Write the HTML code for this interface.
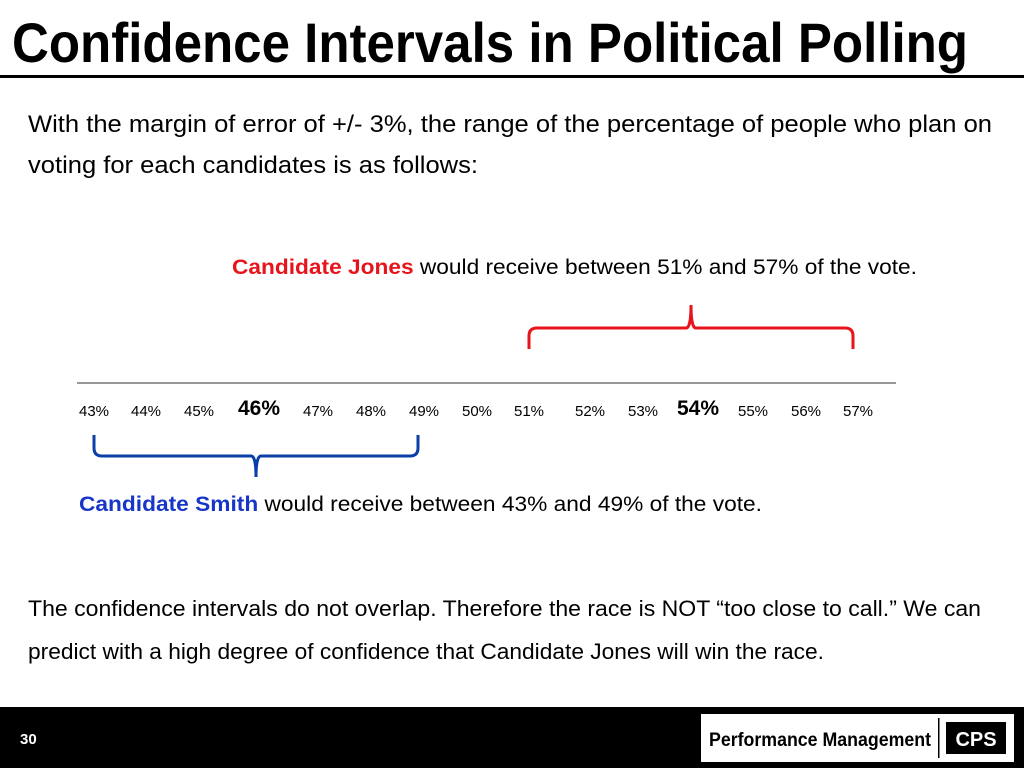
<!DOCTYPE html>
<html><head><meta charset="utf-8"><style>
html,body{margin:0;padding:0;background:#fff;}
svg{display:block;font-family:"Liberation Sans",Arial,sans-serif;}
</style></head><body>
<svg width="1024" height="768" viewBox="0 0 1024 768">
<text x="12" y="62" font-size="56" font-weight="bold" textLength="956" lengthAdjust="spacingAndGlyphs">Confidence Intervals in Political Polling</text>
<rect x="0" y="75" width="1024" height="3" fill="#000"/>
<text x="28" y="132" font-size="24" textLength="964" lengthAdjust="spacingAndGlyphs">With the margin of error of +/- 3%, the range of the percentage of people who plan on</text>
<text x="28" y="173" font-size="24" textLength="450" lengthAdjust="spacingAndGlyphs">voting for each candidates is as follows:</text>
<text x="232" y="274" font-size="21" textLength="685" lengthAdjust="spacingAndGlyphs"><tspan fill="#e8141b" font-weight="bold">Candidate Jones</tspan> would receive between 51% and 57% of the vote.</text>
<g id="chart"></g>
<text x="79" y="511" font-size="21" textLength="683" lengthAdjust="spacingAndGlyphs"><tspan fill="#1736c8" font-weight="bold">Candidate Smith</tspan> would receive between 43% and 49% of the vote.</text>
<text x="28" y="616" font-size="22" textLength="953" lengthAdjust="spacingAndGlyphs">The confidence intervals do not overlap.  Therefore the race is NOT “too close to call.”  We can</text>
<text x="28" y="659" font-size="22" textLength="796" lengthAdjust="spacingAndGlyphs">predict with a high degree of confidence that Candidate Jones will win the race.</text>
<rect x="0" y="707" width="1024" height="61" fill="#000"/>
<text x="20" y="744" font-size="15" font-weight="bold" fill="#fff">30</text>
<rect x="701" y="714" width="313" height="48" fill="#fff"/>
<text x="709" y="746" font-size="19" font-weight="bold" textLength="222" lengthAdjust="spacingAndGlyphs">Performance Management</text>
<rect x="938" y="718" width="1.5" height="40" fill="#000"/>
<rect x="946" y="722" width="60" height="32" fill="#000"/>
<text x="976" y="746" font-size="20" font-weight="bold" fill="#fff" text-anchor="middle">CPS</text>
</svg>
<script>
const tickValues=[43,44,45,46,47,48,49,50,51,52,53,54,55,56,57];
const boldTicks=[46,54];
const smithRange=[43,49];
const jonesRange=[51,57];
const tickX=[94,146,199,259,318,371,424,477,529,590,643,698,753,806,858];
function xOf(v){const i=tickValues.indexOf(v);if(i>=0)return tickX[i];const a=Math.floor(v);return xOf(a)+(v-a)*(xOf(a+1)-xOf(a));}
const NS="http://www.w3.org/2000/svg";
const g=document.getElementById('chart');
const axis=document.createElementNS(NS,'line');
axis.setAttribute('x1',77);axis.setAttribute('x2',896);axis.setAttribute('y1',383);axis.setAttribute('y2',383);
axis.setAttribute('stroke','#777');axis.setAttribute('stroke-width','1.5');


g.appendChild(axis);
tickValues.forEach(v=>{
 const t=document.createElementNS(NS,'text');
 const b=boldTicks.includes(v);
 t.setAttribute('x',xOf(v));t.setAttribute('y',b?415:416);
 t.setAttribute('text-anchor','middle');t.setAttribute('font-size',b?21:15);
 if(b)t.setAttribute('font-weight','bold');
 t.textContent=v+'%';
 
 
 g.appendChild(t);
});
function brace(r,color,top,name){
 const x1=xOf(r[0]),x2=xOf(r[1])-(top?5:6),xm=(x1+x2)/2;
 let d;
 if(top){const y=328,e=349,p=305;
  d=`M${x1},${e} L${x1},${y+8} Q${x1},${y} ${x1+8},${y} L${xm-5},${y} Q${xm},${y} ${xm},${p} Q${xm},${y} ${xm+5},${y} L${x2-8},${y} Q${x2},${y} ${x2},${y+8} L${x2},${e}`;}
 else{const y=456,e=435,p=477;
  d=`M${x1},${e} L${x1},${y-8} Q${x1},${y} ${x1+8},${y} L${xm-5},${y} Q${xm},${y} ${xm},${p} Q${xm},${y} ${xm+5},${y} L${x2-8},${y} Q${x2},${y} ${x2},${y-8} L${x2},${e}`;}
 const p=document.createElementNS(NS,'path');
 p.setAttribute('d',d);p.setAttribute('fill','none');p.setAttribute('stroke',color);p.setAttribute('stroke-width','3');
 
 
 g.appendChild(p);
}
brace(jonesRange,'#e8141b',true,'jones-interval-brace');
brace(smithRange,'#0b3fa8',false,'smith-interval-brace');
</script>
</body></html>
